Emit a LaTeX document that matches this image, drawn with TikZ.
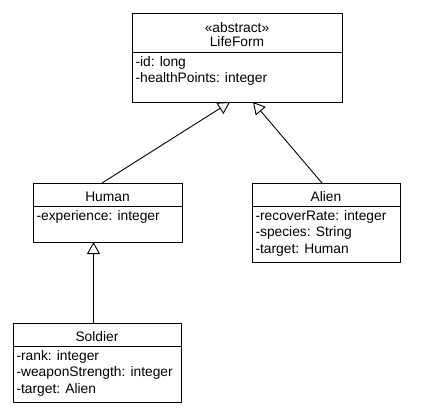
\documentclass[tikz,border=0pt]{standalone}
\usepackage{fontspec}
\setmainfont{Liberation Sans}
\usetikzlibrary{arrows.meta}
\newcommand*\classtitle[1]{\raisebox{-2pt}[\height][\depth]{\shortstack{#1}}}
\newcommand*\attrbox[3]{\parbox[c][#2][t]{#1}{\raggedright\vspace*{4.5pt}#3}}

\begin{document}
\begin{tikzpicture}[x=1pt,y=-1pt,line width=0.9pt,
     classhead/.style={draw,rectangle,anchor=north west,inner sep=0pt,outer sep=0pt,
        font=\fontsize{13.8pt}{14.5pt}\selectfont},
     classbody/.style={draw,rectangle,anchor=north west,inner xsep=3.5pt,inner ysep=0pt,
        outer sep=0pt,font=\fontsize{13.8pt}{16.3pt}\selectfont},
     generalize/.style={-{Triangle[open,length=12pt,width=13pt]}}
     ]
   \useasboundingbox (0,0) rectangle (430,418);
   % one head box and one attribute box per class, put at its top left corner
   \foreach \cls/\x/\y/\w/\hh/\bh/\title/\attrs
      in {lifeform/132/13/210/39/50/{«abstract»\\LifeForm}/{-id: long\\-healthPoints: integer},
          human/33/183/149/23/36/Human/{-experience: integer},
          alien/252/183/148/23/56/Alien/{-recoverRate: integer\\-species: String\\-target: Human},
          soldier/13/323/168/23/56/Soldier/{-rank: integer\\-weaponStrength: integer\\-target: Alien}}
   {
     \node[classhead,minimum width=\w pt,minimum height=\hh pt] (\cls) at (\x,\y) {\classtitle{\title}};
     \node[classbody] (\cls-attr) at (\cls.south west) {\attrbox{\dimexpr\w pt-7pt\relax}{\bh pt}{\attrs}};
   }

   % generalisations
   \draw[generalize] ([xshift=-5.5pt]human.north) -- ([xshift=-7pt]lifeform-attr.south);
   \draw[generalize] ([xshift=-4pt]alien.north) -- ([xshift=16pt]lifeform-attr.south);
   \draw[generalize] ([xshift=-3.5pt]soldier.north) -- ([xshift=-3.5pt]soldier.north |- human-attr.south);
\end{tikzpicture}
\end{document}
